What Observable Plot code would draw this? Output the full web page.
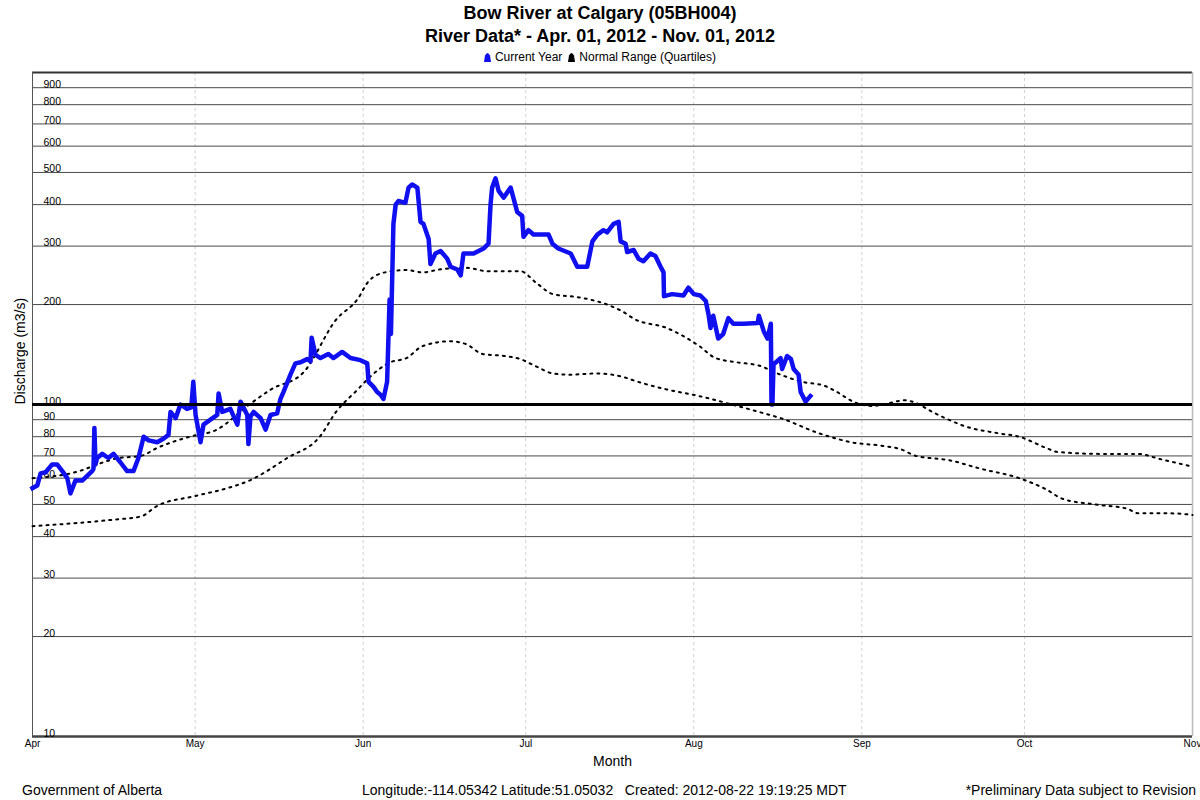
<!DOCTYPE html>
<html>
<head>
<meta charset="utf-8">
<script src="https://cdn.jsdelivr.net/npm/d3@7"></script>
<script src="https://cdn.jsdelivr.net/npm/@observablehq/plot@0.6"></script>
<style>
  html, body { margin: 0; padding: 0; background: #fff; }
  body { width: 1200px; height: 800px; position: relative; overflow: hidden;
         font-family: "Liberation Sans", Arial, sans-serif; color: #000; }
  .t { position: absolute; left: 0; width: 1200px; text-align: center; font-weight: bold; font-size: 18px; line-height: 22px; }
  #legend { position: absolute; left: 0; width: 1200px; top: 50px; height: 14px; display: flex; justify-content: center; align-items: center; font-size: 12px; line-height: 14px; }
  #legend svg { margin-right: 4px; }
  #legend span.item { display: inline-flex; align-items: center; margin: 0 3px; }
  #chart { position: absolute; left: 0; top: 66px; }
  .foot { position: absolute; top: 781px; font-size: 14px; line-height: 18px; white-space: pre; }
</style>
</head>
<body>
<div class="t" style="top:2px">Bow River at Calgary (05BH004)</div>
<div class="t" style="top:25px">River Data* - Apr. 01, 2012 - Nov. 01, 2012</div>
<div id="legend"></div>
<div id="chart"></div>
<div class="foot" style="left:22px">Government of Alberta</div>
<div class="foot" style="left:362px">Longitude:-114.05342 Latitude:51.05032   Created: 2012-08-22 19:19:25 MDT</div>
<div class="foot" style="right:4px">*Preliminary Data subject to Revision</div>
<script>
// ---------- DATA ----------
const year = 2012;
const legendLabels = ["Current Year", "Normal Range (Quartiles)"];
const legendColors = ["#0f0fef", "#000000"];

// Current year discharge (m3/s), timestamps "MM-DD HH"
const currentTimes = [
  "04-01 00","04-01 21","04-02 12","04-03 10","04-04 15","04-05 13","04-06 12","04-07 10","04-08 00","04-08 22",
  "04-10 04","04-11 02","04-12 00","04-12 06","04-12 10","04-12 15","04-12 22","04-13 21","04-15 00","04-15 23",
  "04-17 05","04-18 11","04-19 15","04-20 13","04-21 12","04-22 10","04-24 00","04-25 05","04-26 02","04-26 11",
  "04-27 10","04-28 07","04-29 12","04-30 07","04-30 16","05-01 02","05-02 00","05-02 13","05-03 20","05-05 02",
  "05-05 08","05-06 00","05-07 12","05-08 19","05-09 09","05-10 15","05-10 20","05-11 05","05-11 19","05-13 02",
  "05-14 00","05-14 22","05-16 03","05-16 18","05-17 07","05-18 14","05-19 12","05-20 11","05-21 16","05-22 07",
  "05-22 12","05-23 05","05-24 03","05-25 14","05-26 12","05-28 03","05-29 16","05-31 12","06-01 18","06-02 00",
  "06-02 22","06-03 14","06-04 05","06-04 18","06-05 10","06-05 21","06-06 03","06-06 14","06-07 00","06-07 12",
  "06-08 19","06-09 09","06-10 01","06-11 00","06-11 14","06-12 03","06-13 02","06-13 10","06-14 08","06-15 07",
  "06-16 12","06-17 03","06-18 09","06-19 00","06-19 12","06-21 09","06-23 05","06-24 03","06-24 12","06-24 19",
  "06-25 10","06-26 00","06-26 22","06-28 05","06-28 17","06-29 10","06-30 08","06-30 14","07-01 12","07-02 10",
  "07-05 05","07-05 22","07-07 00","07-09 07","07-10 12","07-12 08","07-13 07","07-14 05","07-15 08","07-16 00",
  "07-17 05","07-18 03","07-18 12","07-19 10","07-19 17","07-20 22","07-21 19","07-22 17","07-24 00","07-24 22",
  "07-25 21","07-26 10","07-26 12","07-28 00","07-30 02","07-31 00","08-01 00","08-02 05","08-03 05","08-03 17",
  "08-04 02","08-04 14","08-05 12","08-06 10","08-07 09","08-08 07","08-10 05","08-12 19","08-13 00","08-13 22",
  "08-14 14","08-15 05","08-15 08","08-15 12","08-15 17","08-17 00","08-17 07","08-18 05","08-18 22","08-19 10",
  "08-20 08","08-20 17","08-21 15","08-22 12"
];
const currentFlow = [
  56,57,62,62.5,66,66,63,60,54,59,
  59,61,63,64,85,66,69,71,69,71,
  67,63,63,69,80,78,77,79,81,95,
  91,100,97,98,117,93,77,87,90,93,
  108,95,97,87,102,93,76,92,95,91,
  84,93,94,104,109,123,133,134,137,135,
  159,141,138,142,138,144,138,136,133,117,
  113,109,107,104,117,207,163,350,400,410,
  405,450,460,450,355,350,315,265,285,290,
  275,260,255,245,285,285,295,305,400,450,
  480,440,420,450,420,380,370,320,335,325,
  325,305,295,285,260,260,310,325,335,330,
  350,355,310,305,288,292,275,270,285,280,
  260,250,212,215,213,225,215,213,205,187,
  170,185,158,163,182,175,175,176,185,166,
  158,175,100,100,132,138,128,140,137,128,
  123,109,102,106
];

// Normal range: upper quartile (75th percentile)
const upperTimes = [
  "04-01","04-08","04-17","04-21","04-24","04-30","05-05","05-11","05-15","05-21",
  "05-27","05-31","06-02","06-05","06-09","06-12","06-15","06-20","06-24","06-30",
  "07-03","07-06","07-11","07-16","07-19","07-21","07-27","08-02","08-05","08-09",
  "08-13","08-17","08-21","08-25","08-27","08-31","09-03","09-06","09-09","09-11",
  "09-14","09-17","09-20","09-26","09-30","10-05","10-07","10-15","10-22","10-26","11-01"
];
const upperFlow = [
  60,62,69,70,74,80,84,100,111,125,
  180,208,235,250,254,250,255,258,252,252,
  232,215,210,200,190,181,170,150,138,134,
  131,123,117,114,110,101,99,101,103,101,
  95,90,86,82,80,74,72,71,71,68.5,65
];

// Normal range: lower quartile (25th percentile)
const lowerTimes = [
  "04-01","04-16","04-21","04-24","05-01","05-07","05-11","05-18","05-24","05-27",
  "05-31","06-02","06-06","06-09","06-12","06-17","06-20","06-23","06-27","06-30",
  "07-03","07-06","07-09","07-14","07-19","07-21","07-27","08-02","08-08","08-14",
  "08-17","08-24","08-30","09-05","09-08","09-11","09-17","09-23","09-30","10-05",
  "10-08","10-14","10-20","10-22","10-28","11-01"
];
const lowerFlow = [
  43,45,46,49.5,53,56,59,69,80,95,
  111,120,134,138,150,155,152,142,140,137,
  130,124,123,124,121,118,111,106,100,94,
  91,82,77,75,73.5,70,68,64,60,55.5,
  52,50,48.5,47,47,46.5
];

// Axis ticks
const yTickValues = [10,20,30,40,50,60,70,80,90,100,200,300,400,500,600,700,800,900];
const monthTickDates = ["04-01","05-01","06-01","07-01","08-01","09-01","10-01","11-01"];
const xDomainDates = ["04-01","11-01"];
const yDomain = [10, 1000];
const yLabel = "Discharge (m3/s)";
const xLabel = "Month";

// ---------- BUILD ----------
const parseHour = d3.timeParse("%Y-%m-%d %H");
const parseDay = d3.timeParse("%Y-%m-%d");
const current = currentTimes.map((t, i) => ({date: parseHour(`${year}-${t}`), flow: currentFlow[i]}));
const upper = upperTimes.map((t, i) => ({date: parseDay(`${year}-${t}`), flow: upperFlow[i]}));
const lower = lowerTimes.map((t, i) => ({date: parseDay(`${year}-${t}`), flow: lowerFlow[i]}));
const monthTicks = monthTickDates.map(t => parseDay(`${year}-${t}`));
const xDomain = xDomainDates.map(t => parseDay(`${year}-${t}`));
const innerMonths = monthTicks.slice(1, -1);
const minorY = yTickValues.filter(v => v !== 100 && v !== 10);

const chart = Plot.plot({
  width: 1200,
  height: 704,
  marginTop: 6,
  marginBottom: 34,
  marginLeft: 32,
  marginRight: 8,
  style: {fontFamily: '"Liberation Sans", Arial, sans-serif', color: "#000", background: "#fff"},
  x: {type: "time", domain: xDomain},
  y: {type: "log", domain: yDomain, axis: null},
  marks: [
    Plot.ruleX(innerMonths, {stroke: "#d0d0d0", strokeWidth: 1, strokeDasharray: "3,3"}),
    Plot.ruleY(minorY, {stroke: "#4a4a4a", strokeWidth: 1}),
    Plot.ruleY([1000], {stroke: "#333", strokeWidth: 2}),
    Plot.ruleY([10], {stroke: "#444", strokeWidth: 2.5}),
    Plot.ruleX([xDomain[0]], {stroke: "#555", strokeWidth: 1}),
    Plot.ruleX([xDomain[1]], {stroke: "#bbb", strokeWidth: 1.5}),
    Plot.text(yTickValues, {y: d => d, text: d => String(d), frameAnchor: "left", dx: 11, dy: 0,
      lineAnchor: "bottom", textAnchor: "start", fontSize: 10.5, fill: "#000"}),
    Plot.line(upper, {x: "date", y: "flow", stroke: "#000", strokeWidth: 2, strokeDasharray: "2,5", curve: "monotone-x"}),
    Plot.line(lower, {x: "date", y: "flow", stroke: "#000", strokeWidth: 2, strokeDasharray: "2,5", curve: "monotone-x"}),
    Plot.line(current, {x: "date", y: "flow", stroke: legendColors[0], strokeWidth: 4.5, strokeLinejoin: "round", strokeLinecap: "square"}),
    Plot.ruleY([100], {stroke: "#000", strokeWidth: 3}),
    Plot.axisX({ticks: monthTicks, tickFormat: d3.timeFormat("%b"), tickSize: 0, tickPadding: 3, fontSize: 10, label: null}),
    Plot.text([xLabel], {frameAnchor: "bottom", dy: 29, fontSize: 14, fill: "#000"}),
    Plot.text([yLabel], {frameAnchor: "left", dx: -12, rotate: -90, fontSize: 14, fill: "#000"})
  ]
});
document.getElementById("chart").appendChild(chart);

// Legend
const legend = document.getElementById("legend");
legendLabels.forEach((label, i) => {
  const item = document.createElement("span");
  item.className = "item";
  item.innerHTML = `<svg width="7" height="10" viewBox="0 0 7 10"><path d="M0,10 L1,3.5 Q3.5,-1.5 6,3.5 L7,10 Z" fill="${legendColors[i]}"/></svg>`;
  item.appendChild(document.createTextNode(label));
  legend.appendChild(item);
});
</script>
</body>
</html>
